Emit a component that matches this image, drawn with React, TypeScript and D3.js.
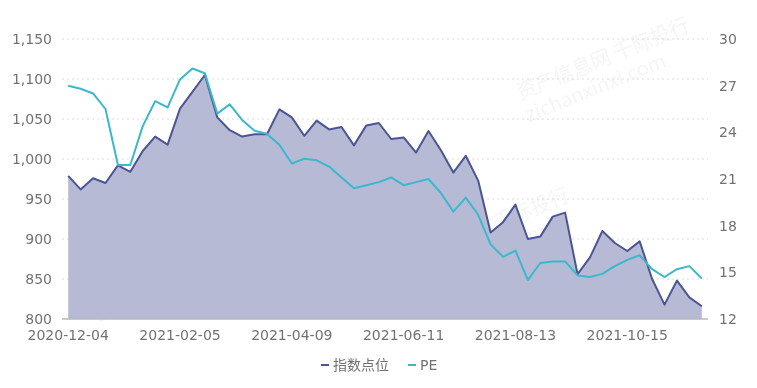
import { useEffect, useRef } from 'react'
import * as d3 from 'd3'

const dates = [
  '2020-12-04', '2020-12-11', '2020-12-18', '2020-12-25', '2021-01-01', '2021-01-08', '2021-01-15', '2021-01-22', '2021-01-29',
  '2021-02-05', '2021-02-12', '2021-02-19', '2021-02-26', '2021-03-05', '2021-03-12', '2021-03-19', '2021-03-26', '2021-04-02',
  '2021-04-09', '2021-04-16', '2021-04-23', '2021-04-30', '2021-05-07', '2021-05-14', '2021-05-21', '2021-05-28', '2021-06-04',
  '2021-06-11', '2021-06-18', '2021-06-25', '2021-07-02', '2021-07-09', '2021-07-16', '2021-07-23', '2021-07-30', '2021-08-06',
  '2021-08-13', '2021-08-20', '2021-08-27', '2021-09-03', '2021-09-10', '2021-09-17', '2021-09-24', '2021-10-01', '2021-10-08',
  '2021-10-15', '2021-10-22', '2021-10-29', '2021-11-05', '2021-11-12', '2021-11-19', '2021-11-26',
]

const indexPoints = [
  979, 962, 976, 970, 992, 984, 1010, 1028, 1018, 1063, 1084, 1105, 1052, 1036, 1028, 1031, 1031, 1062,
  1052, 1029, 1048, 1037, 1040, 1017, 1042, 1045, 1025, 1027, 1008, 1035, 1011, 983, 1004, 973, 908, 921,
  943, 900, 903, 928, 933, 856, 877, 910, 895, 885, 897, 850, 818, 848, 827, 816,
]

const peValues = [
  27.0, 26.8, 26.5, 25.5, 21.9, 21.9, 24.4, 26.0, 25.6, 27.4, 28.1, 27.8, 25.2, 25.8, 24.8, 24.1, 23.9, 23.2,
  22.0, 22.3, 22.2, 21.8, 21.1, 20.4, 20.6, 20.8, 21.1, 20.6, 20.8, 21.0, 20.1, 18.9, 19.8, 18.7, 16.8, 16.0,
  16.4, 14.5, 15.6, 15.7, 15.7, 14.8, 14.7, 14.9, 15.4, 15.8, 16.1, 15.2, 14.7, 15.2, 15.4, 14.6,
]

const leftTicks = [800, 850, 900, 950, 1000, 1050, 1100, 1150]
const rightTicks = [12, 15, 18, 21, 24, 27, 30]
const seriesNames = ['指数点位', 'PE']

const W = 757
const H = 388
const FONT = '"DejaVu Sans", "Noto Sans CJK SC", sans-serif'
const INDEX_COLOR = '#4b5596'
const INDEX_FILL = '#b6bad5'
const PE_COLOR = '#3cb8cc'
const TEXT = '#727272'

export default function App() {
  const svgRef = useRef<SVGSVGElement>(null)

  useEffect(() => {
    if (!svgRef.current) return
    const margin = { top: 39, right: 49, bottom: 69, left: 62 }
    const svg = d3.select(svgRef.current)
    svg.selectAll('*').remove()

    const x = d3.scaleBand().domain(dates).range([margin.left, W - margin.right])
    const cx = (d: string) => (x(d) as number) + x.bandwidth() / 2
    const yL = d3.scaleLinear().domain([800, 1150]).range([H - margin.bottom, margin.top])
    const yR = d3.scaleLinear().domain([12, 30]).range([H - margin.bottom, margin.top])

    // faint watermarks, kept inside the plot
    const wm = svg.append('g').attr('fill', '#000').attr('opacity', 0.045)
      .attr('font-family', '"Noto Sans CJK SC", sans-serif').attr('font-size', 20)
    const marks: [number, number][] = [[520, 100], [90, 300], [400, 270]]
    marks.forEach(([mx, my]) => {
      const g = wm.append('g').attr('transform', `translate(${mx},${my}) rotate(-22)`)
      g.append('text').text('资产信息网 千际投行')
      g.append('text').attr('y', 24).text('zichanxinxi.com')
    })

    // grid
    svg.append('g').selectAll('line')
      .data(leftTicks.slice(1))
      .join('line')
      .attr('x1', margin.left).attr('x2', W - margin.right)
      .attr('y1', d => yL(d)).attr('y2', d => yL(d))
      .attr('stroke', '#dcdcdc').attr('stroke-dasharray', '2 3')

    // area under the index
    const area = d3.area<number>()
      .x((_, i) => cx(dates[i]))
      .y0(yL(800))
      .y1(d => yL(d))
    svg.append('path').datum(indexPoints).attr('d', area).attr('fill', INDEX_FILL)

    // base axis line
    svg.append('line')
      .attr('x1', margin.left).attr('x2', W - margin.right)
      .attr('y1', yL(800)).attr('y2', yL(800))
      .attr('stroke', '#b9b9b9').attr('stroke-width', 1.5)

    const lineL = d3.line<number>().x((_, i) => cx(dates[i])).y(d => yL(d))
    svg.append('path').datum(indexPoints).attr('d', lineL)
      .attr('fill', 'none').attr('stroke', INDEX_COLOR).attr('stroke-width', 2).attr('stroke-linejoin', 'round')

    const lineR = d3.line<number>().x((_, i) => cx(dates[i])).y(d => yR(d))
    svg.append('path').datum(peValues).attr('d', lineR)
      .attr('fill', 'none').attr('stroke', PE_COLOR).attr('stroke-width', 2).attr('stroke-linejoin', 'round')

    // left axis labels
    svg.append('g').selectAll('text')
      .data(leftTicks)
      .join('text')
      .attr('x', 52).attr('y', d => yL(d)).attr('dy', '0.35em')
      .attr('text-anchor', 'end')
      .attr('font-family', FONT).attr('font-size', 14).attr('fill', TEXT)
      .text(d => d3.format(',')(d))

    // right axis labels
    svg.append('g').selectAll('text')
      .data(rightTicks)
      .join('text')
      .attr('x', 719).attr('y', d => yR(d)).attr('dy', '0.35em')
      .attr('font-family', FONT).attr('font-size', 14).attr('fill', TEXT)
      .text(d => d)

    // x labels every 9th week
    svg.append('g').selectAll('text')
      .data(dates.filter((_, i) => i % 9 === 0))
      .join('text')
      .attr('x', d => cx(d)).attr('y', yL(800) + 21)
      .attr('text-anchor', 'middle')
      .attr('font-family', FONT).attr('font-size', 14).attr('fill', TEXT)
      .text(d => d)

    // legend
    const legend = svg.append('g').attr('font-family', FONT).attr('font-size', 14).attr('fill', TEXT)
    const items = [
      { name: seriesNames[0], color: INDEX_COLOR, x: 321 },
      { name: seriesNames[1], color: PE_COLOR, x: 408 },
    ]
    items.forEach(it => {
      legend.append('line')
        .attr('x1', it.x).attr('x2', it.x + 8).attr('y1', 365).attr('y2', 365)
        .attr('stroke', it.color).attr('stroke-width', 2)
      legend.append('text').attr('x', it.x + 12).attr('y', 365).attr('dy', '0.35em').text(it.name)
    })
  }, [])

  return (
    <svg
      ref={svgRef}
      width={W}
      height={H}
      style={{ position: 'absolute', left: 0, top: 0, background: '#fff' }}
    />
  )
}
